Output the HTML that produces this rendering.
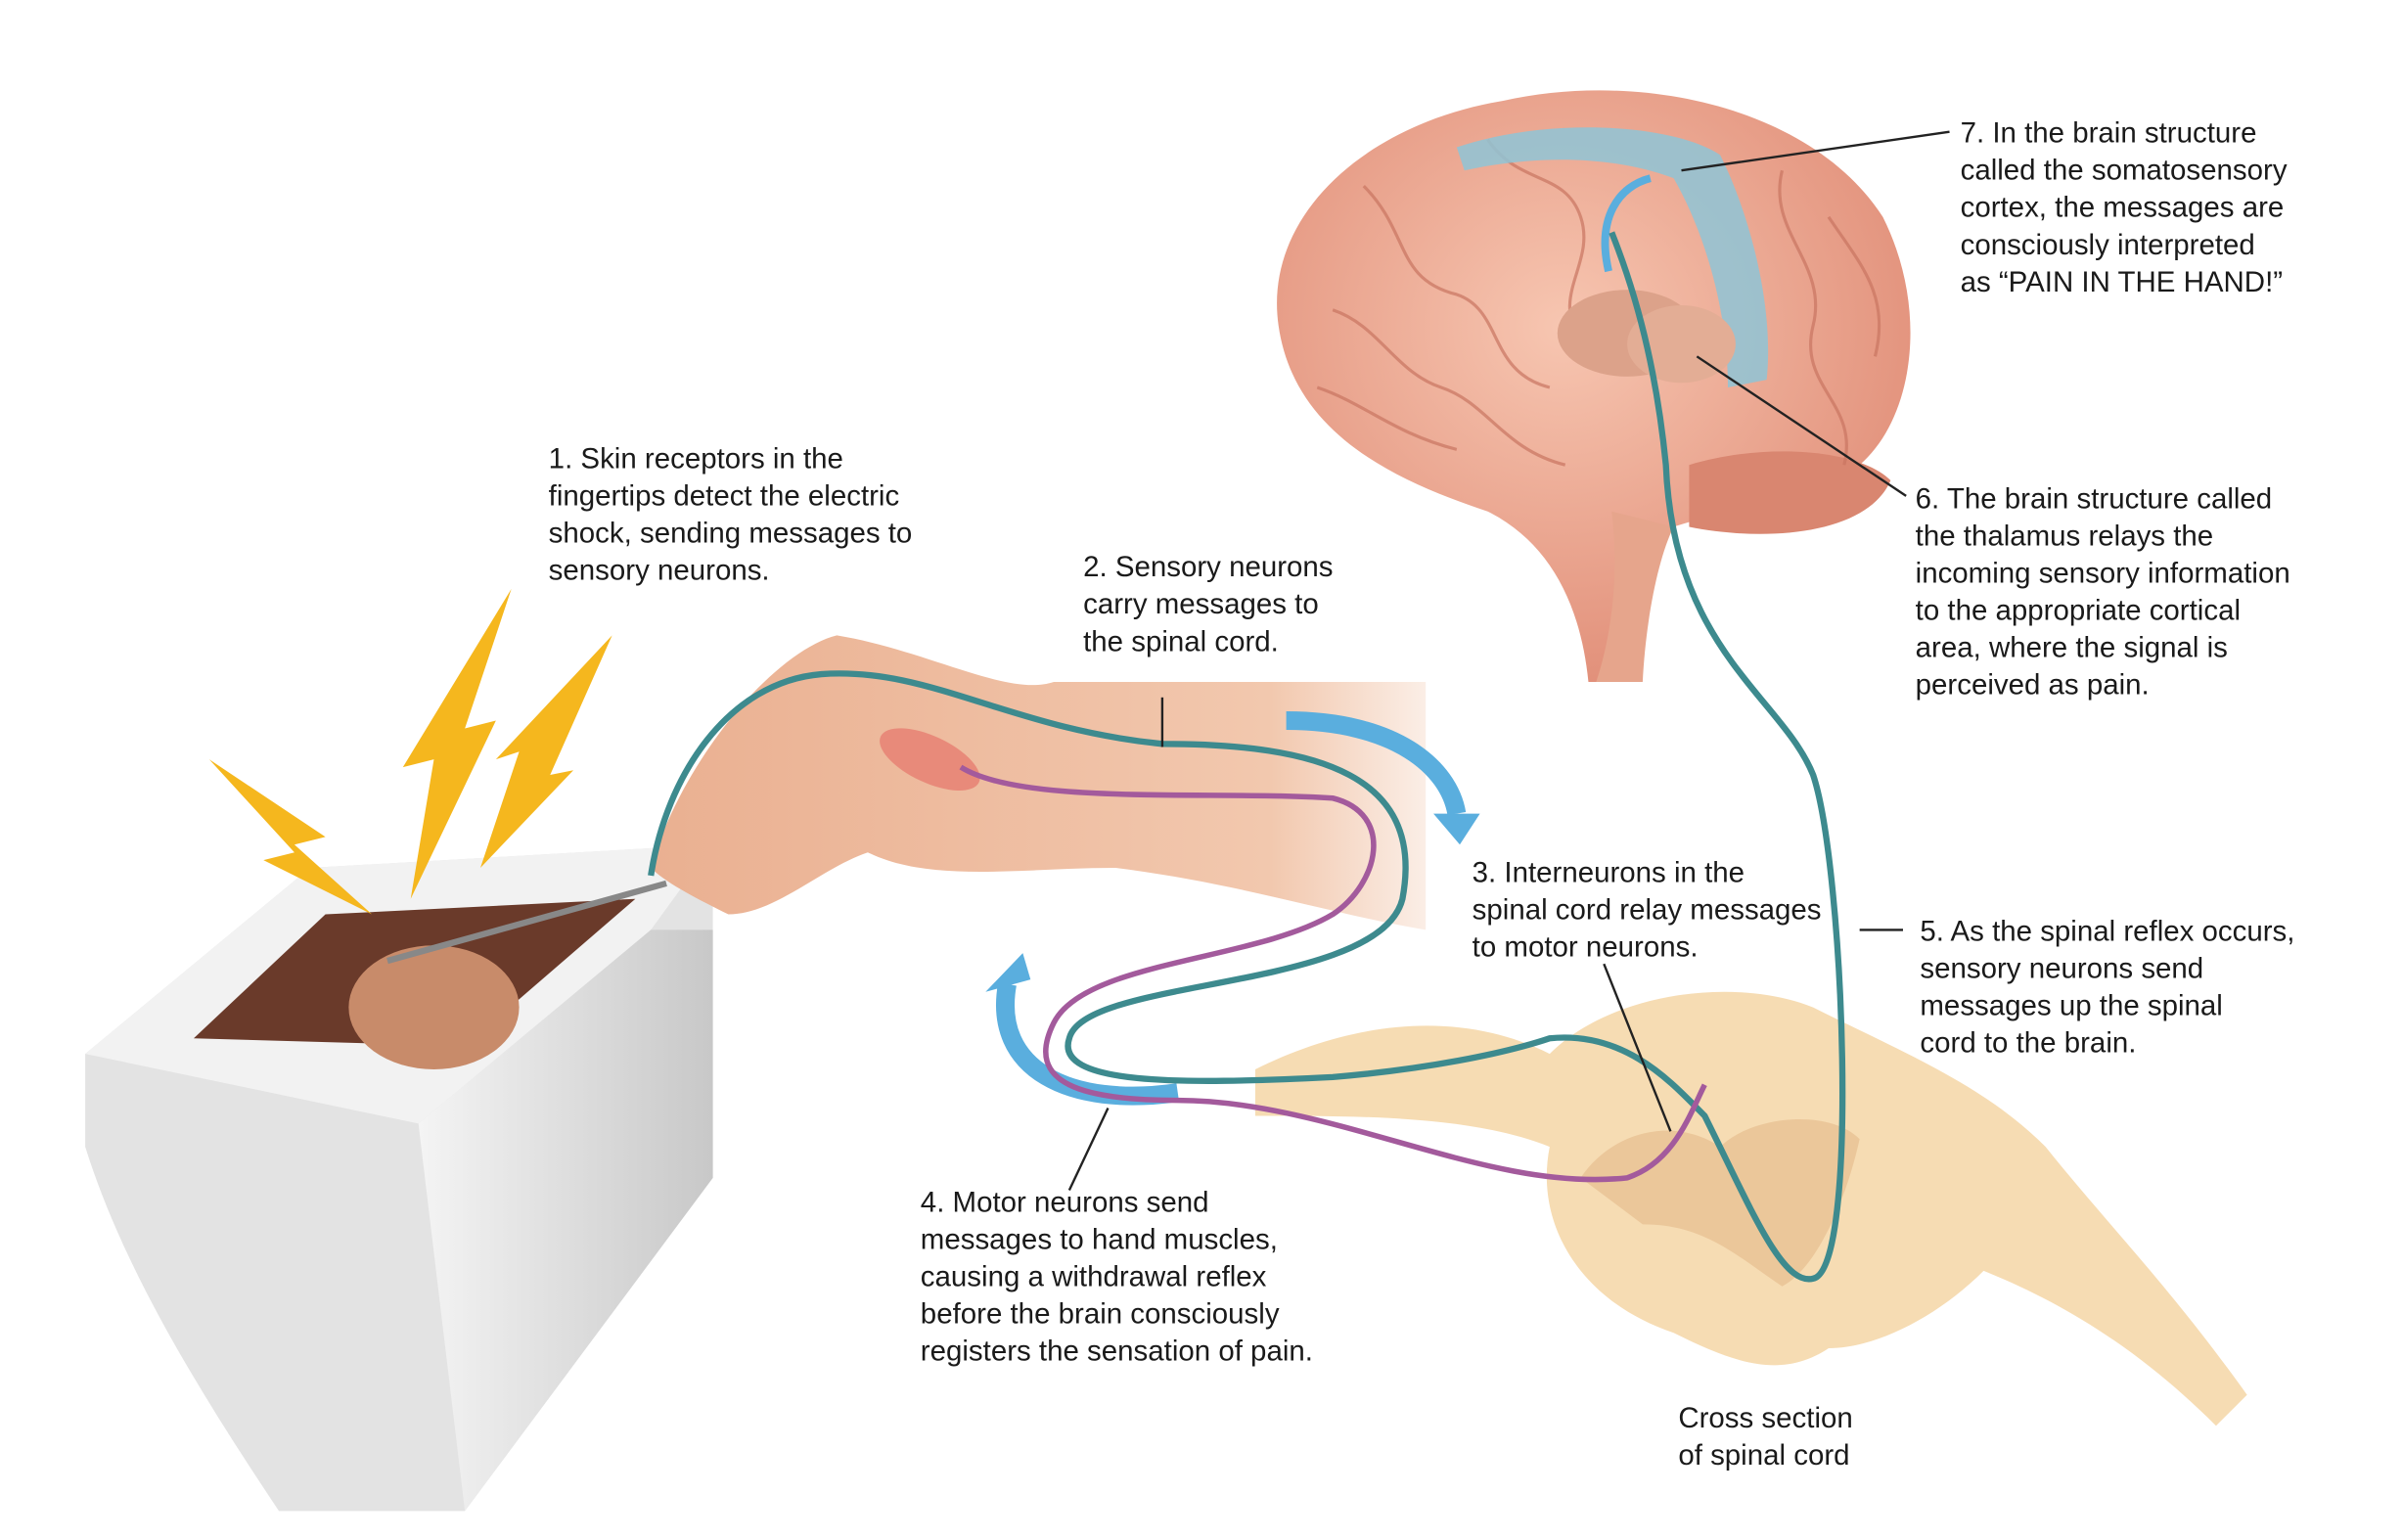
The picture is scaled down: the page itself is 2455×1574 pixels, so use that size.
<!DOCTYPE html>
<html><head><meta charset="utf-8"><style>
html,body{margin:0;padding:0;background:#fff;}
svg{display:block;}
text{font-family:"Liberation Sans",sans-serif;font-size:18.6px;fill:#1a1a1a;}
</style></head><body>
<svg width="2455" height="1574" viewBox="0 0 1550 993.7" preserveAspectRatio="none" xmlns="http://www.w3.org/2000/svg">
<defs>
<radialGradient id="br" cx="0.45" cy="0.4" r="0.65"><stop offset="0" stop-color="#f7c6b1"/><stop offset="1" stop-color="#e08c76"/></radialGradient>
<linearGradient id="ts" x1="0" y1="0" x2="1" y2="0"><stop offset="0" stop-color="#f4f4f4"/><stop offset="1" stop-color="#c8c8c8"/></linearGradient>
<linearGradient id="arm" x1="0" y1="0" x2="1" y2="0"><stop offset="0" stop-color="#eab091"/><stop offset="0.8" stop-color="#f2c8ae"/><stop offset="1" stop-color="#fbeee6"/></linearGradient>
</defs>
<path d="M825,210 C815,140 880,80 970,65 C1060,45 1170,70 1215,140 C1245,200 1235,270 1200,300 C1170,320 1110,330 1080,340 C1060,360 1050,395 1045,440 L1025,440 C1020,390 1000,350 960,330 C900,310 835,280 825,210Z" fill="url(#br)"/>
<path d="M1090,300 C1140,285 1200,290 1220,310 C1205,345 1140,350 1090,340Z" fill="#d98670"/>
<path d="M1040,330 C1045,370 1040,410 1030,440 L1060,440 C1062,400 1070,360 1080,340Z" fill="#e6a58c"/>
<g stroke="#c97561" stroke-width="2" fill="none" opacity="0.7">
<path d="M880,120 C910,150 900,180 940,190 C970,200 960,240 1000,250"/>
<path d="M860,200 C890,210 900,240 930,250 C960,260 970,290 1010,300"/>
<path d="M1150,110 C1140,150 1180,170 1170,210 C1160,250 1200,260 1190,300"/>
<path d="M960,90 C980,120 1010,110 1020,140 C1030,170 1000,190 1020,220"/>
<path d="M850,250 C880,260 900,280 940,290"/>
<path d="M1180,140 C1200,170 1220,190 1210,230"/>
</g>
<path d="M940,95 C1000,75 1080,80 1110,100 C1130,140 1145,200 1140,245 L1115,250 C1115,200 1100,150 1080,115 C1040,100 990,100 945,110Z" fill="#8fc4d6" opacity="0.85"/>
<ellipse cx="1050" cy="215" rx="45" ry="28" fill="#dca28a"/><ellipse cx="1085" cy="222" rx="35" ry="25" fill="#e3ad95"/>
<path d="M810,690 C870,660 940,650 1000,680 C1040,640 1120,630 1170,650 C1230,680 1280,700 1320,740 C1360,790 1400,830 1450,900 L1430,920 C1380,870 1330,840 1280,820 C1250,850 1210,870 1180,870 C1150,890 1120,880 1080,860 C1020,840 990,790 1000,740 C950,720 880,720 810,720Z" fill="#f6dcb3"/>
<path d="M1020,760 C1040,730 1080,720 1110,740 C1130,720 1180,715 1200,735 C1190,780 1170,820 1150,830 C1120,810 1100,790 1060,790Z" fill="#ebc79a"/>
<path d="M55,680 L200,560 L460,545 L460,760 L300,975 L180,975 C130,900 80,820 55,740Z" fill="#e3e3e3"/>
<path d="M55,680 L200,560 L460,545 L420,600 L270,725Z" fill="#f2f2f2"/>
<path d="M270,725 L420,600 L460,600 L460,760 L300,975Z" fill="url(#ts)"/>
<path d="M125,670 L210,590 L410,580 L300,675Z" fill="#6a3a2a"/>
<ellipse cx="280" cy="650" rx="55" ry="40" fill="#c88b6a"/>
<g fill="#f5b71e">
<polygon points="135,490 210,540 190,545 240,590 170,555 190,550"/>
<polygon points="330,380 300,470 320,465 265,580 280,490 260,495"/>
<polygon points="395,410 355,500 370,497 310,560 335,485 320,490"/>
</g>
<path d="M420,560 C440,490 500,420 540,410 C600,420 650,450 680,440 C760,440 850,440 920,440 L920,600 C860,590 800,570 720,560 C660,560 600,570 560,550 C530,560 500,590 470,590 C450,580 430,570 420,560Z" fill="url(#arm)"/>
<ellipse cx="600" cy="490" rx="35" ry="15" fill="#e88a7a" transform="rotate(25 600 490)"/>
<path d="M250,620 L430,570" stroke="#888" stroke-width="4"/>
<path d="M830,465 C900,465 935,495 940,525" stroke="#5aaede" stroke-width="12" fill="none"/>
<polygon points="925,525 955,525 942,545" fill="#5aaede"/>
<path d="M760,705 C690,715 640,690 650,635" stroke="#5aaede" stroke-width="12" fill="none"/>
<polygon points="636,640 665,632 660,615" fill="#5aaede"/>
<path d="M1038,175 C1030,140 1045,120 1065,115" stroke="#5aaede" stroke-width="5" fill="none"/>
<path d="M420,565 C430,500 470,440 530,435 C600,430 650,470 750,480 C850,480 920,500 905,580 C890,640 700,630 690,670 C680,700 760,700 860,695 C920,690 970,680 1000,670 C1050,665 1080,700 1100,720 C1130,780 1150,830 1170,825 C1200,820 1190,560 1170,500 C1150,450 1080,420 1075,300 C1070,250 1060,200 1040,150" stroke="#3d8a8e" stroke-width="4" fill="none"/>
<path d="M620,495 C660,520 780,510 860,515 C900,525 890,570 860,590 C810,620 700,620 680,660 C660,700 700,710 760,710 C860,710 960,770 1050,760 C1080,750 1090,720 1100,700" stroke="#a35a9c" stroke-width="3.5" fill="none"/>
<g stroke="#222" stroke-width="1.5">
<line x1="1085" y1="110" x2="1258" y2="85"/>
<line x1="1095" y1="230" x2="1230" y2="320"/>
<line x1="750" y1="450" x2="750" y2="482"/>
<line x1="1035" y1="622" x2="1078" y2="730"/>
<line x1="1200" y1="600" x2="1228" y2="600"/>
<line x1="715" y1="715" x2="690" y2="768"/>
</g>
<text x="1265" y="92">7. In the brain structure</text>
<text x="1265" y="116">called the somatosensory</text>
<text x="1265" y="140">cortex, the messages are</text>
<text x="1265" y="164">consciously interpreted</text>
<text x="1265" y="188">as “PAIN IN THE HAND!”</text>
<text x="354" y="302">1. Skin receptors in the</text>
<text x="354" y="326">fingertips detect the electric</text>
<text x="354" y="350">shock, sending messages to</text>
<text x="354" y="374">sensory neurons.</text>
<text x="1236" y="328">6. The brain structure called</text>
<text x="1236" y="352">the thalamus relays the</text>
<text x="1236" y="376">incoming sensory information</text>
<text x="1236" y="400">to the appropriate cortical</text>
<text x="1236" y="424">area, where the signal is</text>
<text x="1236" y="448">perceived as pain.</text>
<text x="699" y="372">2. Sensory neurons</text>
<text x="699" y="396">carry messages to</text>
<text x="699" y="420">the spinal cord.</text>
<text x="950" y="569">3. Interneurons in the</text>
<text x="950" y="593">spinal cord relay messages</text>
<text x="950" y="617">to motor neurons.</text>
<text x="1239" y="607">5. As the spinal reflex occurs,</text>
<text x="1239" y="631">sensory neurons send</text>
<text x="1239" y="655">messages up the spinal</text>
<text x="1239" y="679">cord to the brain.</text>
<text x="594" y="782">4. Motor neurons send</text>
<text x="594" y="806">messages to hand muscles,</text>
<text x="594" y="830">causing a withdrawal reflex</text>
<text x="594" y="854">before the brain consciously</text>
<text x="594" y="878">registers the sensation of pain.</text>
<text x="1083" y="921">Cross section</text>
<text x="1083" y="945">of spinal cord</text>
</svg>
</body></html>
